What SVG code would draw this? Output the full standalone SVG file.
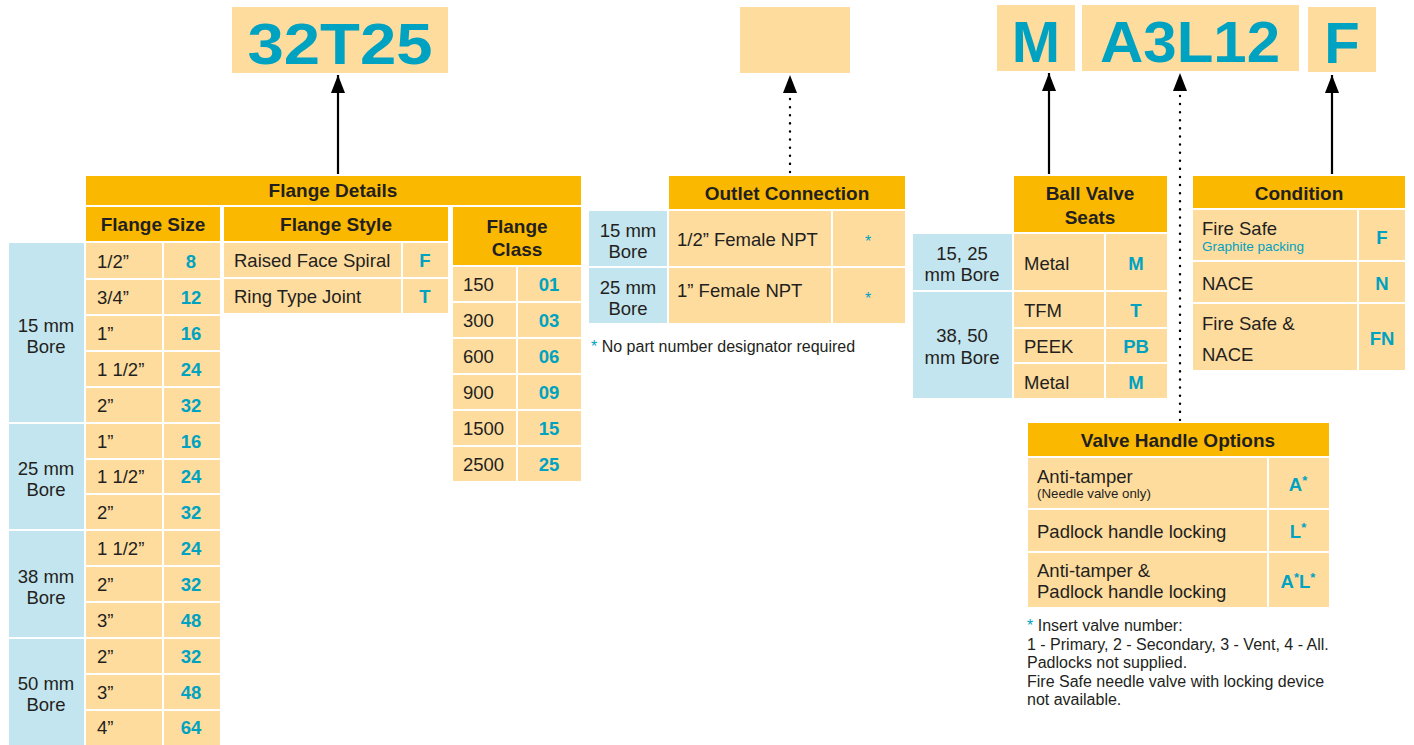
<svg xmlns="http://www.w3.org/2000/svg" width="1414" height="745" viewBox="0 0 1414 745">
<defs>
<style>
.hd{fill:#FAB800;stroke:#fff;stroke-width:2}
.cl{fill:#FEDC9E;stroke:#fff;stroke-width:2}
.bl{fill:#C3E5EF;stroke:#fff;stroke-width:2}
.pb{fill:#FEDC9E}
text{font-family:"Liberation Sans",Arial,sans-serif;fill:#231F20;font-size:18.5px}
.h{font-weight:bold;text-anchor:middle;font-size:19px}
.c{font-weight:bold;text-anchor:middle;fill:#00A2C1}
.m{text-anchor:middle}
.big{font-weight:bold;font-size:58px;fill:#00A2C1;text-anchor:middle}
.s{fill:#00A2C1}
.fn{font-size:16px}
.ln{stroke:#000;stroke-width:2.2;fill:none}
.dt{stroke:#000;stroke-width:2.4;fill:none;stroke-dasharray:0.1 8;stroke-linecap:round}
</style>
<marker id="ah" viewBox="0 0 18 14" refX="18" refY="7" markerWidth="18" markerHeight="14" markerUnits="userSpaceOnUse" orient="auto">
<path d="M0,0 L18,7 L0,14 Z" fill="#000"/>
</marker>
</defs>

<g id="code-32T25">
<rect class="pb" x="232" y="7" width="216" height="66"/>
<text class="big" x="340" y="64" textLength="185" lengthAdjust="spacingAndGlyphs">32T25</text>
</g>
<g id="code-outlet">
<rect class="pb" x="740" y="7" width="110" height="66"/>
</g>
<g id="code-M">
<rect class="pb" x="997" y="5" width="78" height="66"/>
<text class="big" x="1036" y="62">M</text>
</g>
<g id="code-A3L12">
<rect class="pb" x="1082" y="5" width="217" height="66"/>
<text class="big" x="1190" y="62" textLength="180" lengthAdjust="spacingAndGlyphs">A3L12</text>
</g>
<g id="code-F">
<rect class="pb" x="1308" y="7" width="68" height="65"/>
<text class="big" x="1342" y="63">F</text>
</g>

<g id="connectors">
<line class="ln" x1="338" y1="175" x2="338" y2="75" marker-end="url(#ah)"/>
<line class="dt" x1="790" y1="172" x2="790" y2="75" marker-end="url(#ah)"/>
<line class="ln" x1="1049" y1="175" x2="1049" y2="73" marker-end="url(#ah)"/>
<line class="dt" x1="1180" y1="420" x2="1180" y2="73" marker-end="url(#ah)"/>
<line class="ln" x1="1332" y1="175" x2="1332" y2="75" marker-end="url(#ah)"/>
</g>

<g id="flange-details">
<rect class="hd" x="85" y="175" width="497" height="31"/>
<text class="h" x="333" y="197">Flange Details</text>
</g>

<g id="flange-size">
<rect class="hd" x="85" y="206" width="136" height="36"/>
<text class="h" x="153" y="231">Flange Size</text>
<rect class="bl" x="8" y="242" width="77" height="181"/>
<rect class="bl" x="8" y="423" width="77" height="107"/>
<rect class="bl" x="8" y="530" width="77" height="108"/>
<rect class="bl" x="8" y="638" width="77" height="109"/>
<text class="m" x="46" y="331.5">15 mm</text><text class="m" x="46" y="352.5">Bore</text>
<text class="m" x="46" y="475">25 mm</text><text class="m" x="46" y="496">Bore</text>
<text class="m" x="46" y="582.5">38 mm</text><text class="m" x="46" y="603.5">Bore</text>
<text class="m" x="46" y="690">50 mm</text><text class="m" x="46" y="711">Bore</text>
<rect class="cl" x="85" y="242" width="78" height="37"/><rect class="cl" x="163" y="242" width="58" height="37"/>
<rect class="cl" x="85" y="279" width="78" height="36"/><rect class="cl" x="163" y="279" width="58" height="36"/>
<rect class="cl" x="85" y="315" width="78" height="36"/><rect class="cl" x="163" y="315" width="58" height="36"/>
<rect class="cl" x="85" y="351" width="78" height="36"/><rect class="cl" x="163" y="351" width="58" height="36"/>
<rect class="cl" x="85" y="387" width="78" height="36"/><rect class="cl" x="163" y="387" width="58" height="36"/>
<rect class="cl" x="85" y="423" width="78" height="36"/><rect class="cl" x="163" y="423" width="58" height="36"/>
<rect class="cl" x="85" y="459" width="78" height="35"/><rect class="cl" x="163" y="459" width="58" height="35"/>
<rect class="cl" x="85" y="494" width="78" height="36"/><rect class="cl" x="163" y="494" width="58" height="36"/>
<rect class="cl" x="85" y="530" width="78" height="36"/><rect class="cl" x="163" y="530" width="58" height="36"/>
<rect class="cl" x="85" y="566" width="78" height="36"/><rect class="cl" x="163" y="566" width="58" height="36"/>
<rect class="cl" x="85" y="602" width="78" height="36"/><rect class="cl" x="163" y="602" width="58" height="36"/>
<rect class="cl" x="85" y="638" width="78" height="36"/><rect class="cl" x="163" y="638" width="58" height="36"/>
<rect class="cl" x="85" y="674" width="78" height="36"/><rect class="cl" x="163" y="674" width="58" height="36"/>
<rect class="cl" x="85" y="710" width="78" height="37"/><rect class="cl" x="163" y="710" width="58" height="37"/>
<text x="97" y="267.5">1/2”</text><text class="c" x="191" y="267.5">8</text>
<text x="97" y="303.5">3/4”</text><text class="c" x="191" y="303.5">12</text>
<text x="97" y="339.5">1”</text><text class="c" x="191" y="339.5">16</text>
<text x="97" y="375.5">1 1/2”</text><text class="c" x="191" y="375.5">24</text>
<text x="97" y="411.5">2”</text><text class="c" x="191" y="411.5">32</text>
<text x="97" y="447.5">1”</text><text class="c" x="191" y="447.5">16</text>
<text x="97" y="483">1 1/2”</text><text class="c" x="191" y="483">24</text>
<text x="97" y="518.5">2”</text><text class="c" x="191" y="518.5">32</text>
<text x="97" y="554.5">1 1/2”</text><text class="c" x="191" y="554.5">24</text>
<text x="97" y="590.5">2”</text><text class="c" x="191" y="590.5">32</text>
<text x="97" y="626.5">3”</text><text class="c" x="191" y="626.5">48</text>
<text x="97" y="662.5">2”</text><text class="c" x="191" y="662.5">32</text>
<text x="97" y="698.5">3”</text><text class="c" x="191" y="698.5">48</text>
<text x="97" y="734">4”</text><text class="c" x="191" y="734">64</text>
</g>

<g id="flange-style">
<rect class="hd" x="223" y="206" width="226" height="36"/>
<text class="h" x="336" y="231">Flange Style</text>
<rect class="cl" x="223" y="242" width="179" height="36"/><rect class="cl" x="402" y="242" width="47" height="36"/>
<rect class="cl" x="223" y="278" width="179" height="36"/><rect class="cl" x="402" y="278" width="47" height="36"/>
<text x="234" y="267">Raised Face Spiral</text><text class="c" x="425" y="267">F</text>
<text x="234" y="303">Ring Type Joint</text><text class="c" x="425" y="303">T</text>
</g>

<g id="flange-class">
<rect class="hd" x="452" y="206" width="130" height="60"/>
<text class="h" x="517" y="233">Flange</text>
<text class="h" x="517" y="256">Class</text>
<rect class="cl" x="452" y="266" width="65" height="36"/><rect class="cl" x="517" y="266" width="65" height="36"/>
<rect class="cl" x="452" y="302" width="65" height="36"/><rect class="cl" x="517" y="302" width="65" height="36"/>
<rect class="cl" x="452" y="338" width="65" height="36"/><rect class="cl" x="517" y="338" width="65" height="36"/>
<rect class="cl" x="452" y="374" width="65" height="36"/><rect class="cl" x="517" y="374" width="65" height="36"/>
<rect class="cl" x="452" y="410" width="65" height="36"/><rect class="cl" x="517" y="410" width="65" height="36"/>
<rect class="cl" x="452" y="446" width="65" height="36"/><rect class="cl" x="517" y="446" width="65" height="36"/>
<text x="463" y="291">150</text><text class="c" x="549" y="291">01</text>
<text x="463" y="327">300</text><text class="c" x="549" y="327">03</text>
<text x="463" y="363">600</text><text class="c" x="549" y="363">06</text>
<text x="463" y="399">900</text><text class="c" x="549" y="399">09</text>
<text x="463" y="435">1500</text><text class="c" x="549" y="435">15</text>
<text x="463" y="471">2500</text><text class="c" x="549" y="471">25</text>
</g>

<g id="outlet-connection">
<rect class="hd" x="668" y="175" width="238" height="35"/>
<text class="h" x="787" y="200">Outlet Connection</text>
<rect class="bl" x="588" y="210" width="80" height="57"/>
<rect class="bl" x="588" y="267" width="80" height="57"/>
<rect class="cl" x="668" y="210" width="164" height="57"/><rect class="cl" x="832" y="210" width="74" height="57"/>
<rect class="cl" x="668" y="267" width="164" height="57"/><rect class="cl" x="832" y="267" width="74" height="57"/>
<text class="m" x="628" y="236.5">15 mm</text><text class="m" x="628" y="257.5">Bore</text>
<text class="m" x="628" y="293.5">25 mm</text><text class="m" x="628" y="314.5">Bore</text>
<text x="677" y="246">1/2” Female NPT</text>
<text x="677" y="297">1” Female NPT</text>
<text class="s m fn" x="868" y="247">*</text>
<text class="s m fn" x="868" y="304">*</text>
<text class="fn" x="591" y="352"><tspan class="s">*</tspan> No part number designator required</text>
</g>

<g id="ball-valve-seats">
<rect class="hd" x="1013" y="175" width="155" height="58"/>
<text class="h" x="1090" y="200">Ball Valve</text>
<text class="h" x="1090" y="224">Seats</text>
<rect class="bl" x="912" y="233" width="101" height="58"/>
<rect class="bl" x="912" y="291" width="101" height="108"/>
<rect class="cl" x="1013" y="233" width="92" height="58"/><rect class="cl" x="1105" y="233" width="63" height="58"/>
<rect class="cl" x="1013" y="291" width="92" height="37"/><rect class="cl" x="1105" y="291" width="63" height="37"/>
<rect class="cl" x="1013" y="328" width="92" height="35"/><rect class="cl" x="1105" y="328" width="63" height="35"/>
<rect class="cl" x="1013" y="363" width="92" height="36"/><rect class="cl" x="1105" y="363" width="63" height="36"/>
<text class="m" x="962" y="260">15, 25</text><text class="m" x="962" y="281">mm Bore</text>
<text class="m" x="962" y="342">38, 50</text><text class="m" x="962" y="364">mm Bore</text>
<text x="1024" y="270">Metal</text><text class="c" x="1136" y="270">M</text>
<text x="1024" y="317">TFM</text><text class="c" x="1136" y="317">T</text>
<text x="1024" y="353">PEEK</text><text class="c" x="1136" y="353">PB</text>
<text x="1024" y="389">Metal</text><text class="c" x="1136" y="389">M</text>
</g>

<g id="condition">
<rect class="hd" x="1192" y="175" width="214" height="34"/>
<text class="h" x="1299" y="200">Condition</text>
<rect class="cl" x="1192" y="209" width="166" height="52"/><rect class="cl" x="1358" y="209" width="48" height="52"/>
<rect class="cl" x="1192" y="261" width="166" height="42"/><rect class="cl" x="1358" y="261" width="48" height="42"/>
<rect class="cl" x="1192" y="303" width="166" height="68"/><rect class="cl" x="1358" y="303" width="48" height="68"/>
<text x="1202" y="235">Fire Safe</text>
<text class="s" x="1202" y="250.5" style="font-size:13.5px">Graphite packing</text>
<text class="c" x="1382" y="244">F</text>
<text x="1202" y="290">NACE</text><text class="c" x="1382" y="290">N</text>
<text x="1202" y="329.5">Fire Safe &amp;</text>
<text x="1202" y="360.5">NACE</text>
<text class="c" x="1382" y="345">FN</text>
</g>

<g id="valve-handle-options">
<rect class="hd" x="1027" y="422" width="303" height="35"/>
<text class="h" x="1178" y="447">Valve Handle Options</text>
<rect class="cl" x="1027" y="457" width="241" height="52"/><rect class="cl" x="1268" y="457" width="62" height="52"/>
<rect class="cl" x="1027" y="509" width="241" height="43"/><rect class="cl" x="1268" y="509" width="62" height="43"/>
<rect class="cl" x="1027" y="552" width="241" height="56"/><rect class="cl" x="1268" y="552" width="62" height="56"/>
<text x="1037" y="483">Anti-tamper</text>
<text x="1037" y="498" style="font-size:13.3px">(Needle valve only)</text>
<text x="1037" y="538">Padlock handle locking</text>
<text x="1037" y="577">Anti-tamper &amp;</text>
<text x="1037" y="598">Padlock handle locking</text>
<text class="c" x="1298" y="491">A<tspan style="font-size:13px" dy="-6">*</tspan></text>
<text class="c" x="1298" y="538">L<tspan style="font-size:13px" dy="-6">*</tspan></text>
<text class="c" x="1298" y="588">A<tspan style="font-size:13px" dy="-6">*</tspan><tspan dy="6">L</tspan><tspan style="font-size:13px" dy="-6">*</tspan></text>
<text class="fn" x="1027" y="631"><tspan class="s">*</tspan> Insert valve number:</text>
<text class="fn" x="1027" y="650">1 - Primary, 2 - Secondary, 3 - Vent, 4 - All.</text>
<text class="fn" x="1027" y="668">Padlocks not supplied.</text>
<text class="fn" x="1027" y="687">Fire Safe needle valve with locking device</text>
<text class="fn" x="1027" y="705">not available.</text>
</g>
</svg>
